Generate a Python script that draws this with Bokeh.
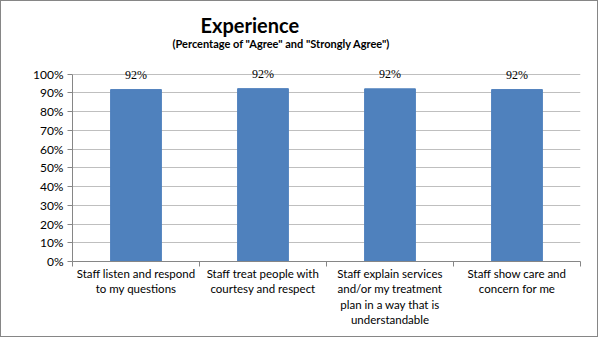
from bokeh.plotting import figure
from bokeh.models import (ColumnDataSource, FixedTicker, LabelSet, NumeralTickFormatter, Range1d, Title)
from bokeh.embed import file_html
from bokeh.resources import INLINE

categories = [
    "Staff listen and respond\nto my questions",
    "Staff treat people with\ncourtesy and respect",
    "Staff explain services\nand/or my treatment\nplan in a way that is\nunderstandable",
    "Staff show care and\nconcern for me",
]
values = [0.917, 0.922, 0.921, 0.917]
value_labels = ["92%", "92%", "92%", "92%"]
y_ticks = [0, 0.1, 0.2, 0.3, 0.4, 0.5, 0.6, 0.7, 0.8, 0.9, 1.0]

FONT = "Lato"
BLUE = "#4F81BD"
AXIS = "#868686"
GRID = "#BFBFBF"

xs = [i + 0.5 for i in range(len(categories))]
src = ColumnDataSource(dict(x=xs, top=values, lab=value_labels))

p = figure(width=598, height=337, output_backend="svg", toolbar_location=None,
           x_range=Range1d(0, len(categories)), y_range=Range1d(0, 1.04))
p.styles = {"border": "1px solid #868686"}
p.min_border_left = 71
p.min_border_right = 19
p.min_border_top = 65
p.min_border_bottom = 77
p.outline_line_color = None
p.background_fill_color = "white"
p.border_fill_color = "white"

p.title = Title(text="Experience", align="left", offset=128,
                text_font=FONT, text_font_size="20px", text_font_style="bold", text_color="#000000",
                standoff=-37)
p.add_layout(Title(text='(Percentage of "Agree" and "Strongly Agree")', align="left", offset=100,
                   text_font=FONT, text_font_size="11px", text_font_style="bold",
                   text_color="#000000", standoff=33), "above")

p.vbar(x="x", top="top", width=0.4, bottom=0, source=src, color=BLUE)

p.add_layout(LabelSet(x="x", y="top", text="lab", source=src, text_align="center",
                      text_baseline="bottom", y_offset=8, text_font=FONT, text_font_size="12px",
                      text_color="#000000"))

# y axis
p.yaxis.ticker = FixedTicker(ticks=y_ticks)
p.yaxis.bounds = (0, 1.0)
p.yaxis.formatter = NumeralTickFormatter(format="0%")
p.yaxis.major_label_text_font = FONT
p.yaxis.major_label_text_font_size = "12px"
p.yaxis.major_label_text_color = "#000000"
p.yaxis.axis_line_color = AXIS
p.yaxis.major_tick_line_color = AXIS
p.yaxis.major_tick_out = 5
p.yaxis.major_tick_in = 0
p.yaxis.minor_tick_line_color = None
p.yaxis.major_label_standoff = 4

# x axis: labels at category centres, tick marks at category boundaries
p.xaxis.ticker = FixedTicker(ticks=xs, minor_ticks=list(range(len(categories) + 1)))
p.xaxis.major_label_overrides = {x: c for x, c in zip(xs, categories)}
p.xaxis.major_label_text_font = FONT
p.xaxis.major_label_text_font_size = "11.5px"
p.xaxis.major_label_text_color = "#000000"
p.xaxis.major_label_text_align = "center"
p.xaxis.major_label_text_line_height = 1.2
p.xaxis.axis_line_color = AXIS
p.xaxis.major_tick_line_color = None
p.xaxis.major_tick_out = 0
p.xaxis.minor_tick_line_color = AXIS
p.xaxis.minor_tick_out = 5
p.xaxis.minor_tick_in = 0
p.xaxis.major_label_standoff = 0

p.xgrid.grid_line_color = None
p.ygrid.ticker = FixedTicker(ticks=y_ticks)
p.ygrid.grid_line_color = GRID

open("out.html", "w").write(file_html(p, INLINE))
